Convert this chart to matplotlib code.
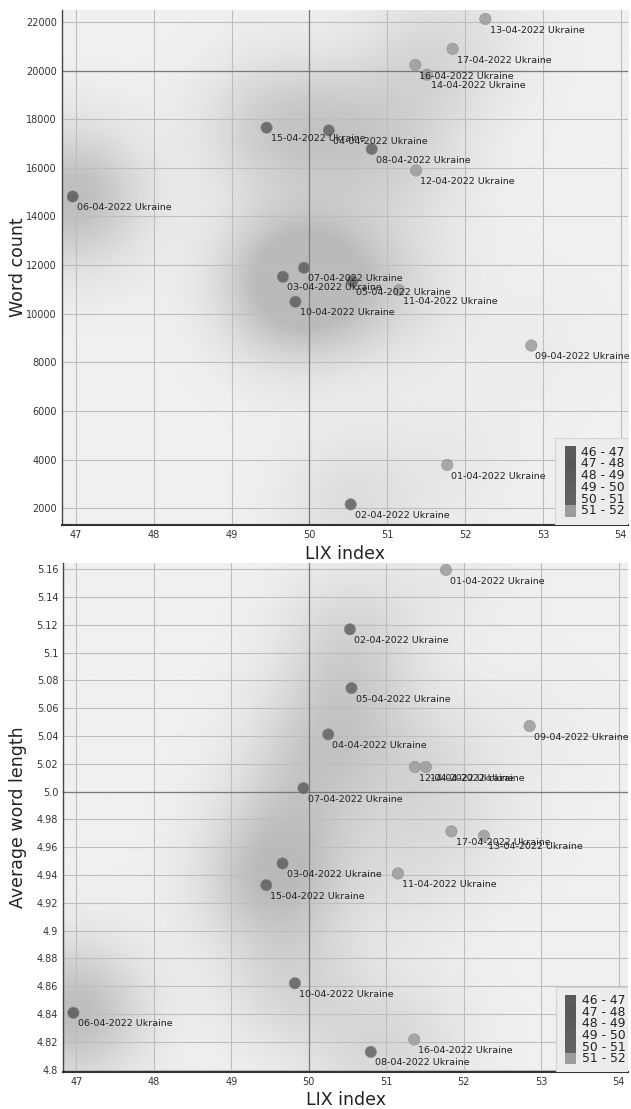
import numpy as np
import matplotlib
matplotlib.use('Agg')
import matplotlib.pyplot as plt
from matplotlib.patches import Rectangle

# data
dates = ['01-04-2022', '02-04-2022', '03-04-2022', '04-04-2022', '05-04-2022',
         '06-04-2022', '07-04-2022', '08-04-2022', '09-04-2022', '10-04-2022',
         '11-04-2022', '12-04-2022', '13-04-2022', '14-04-2022', '15-04-2022',
         '16-04-2022', '17-04-2022']
country = 'Ukraine'
lix = [51.77, 50.53, 49.66, 50.25, 50.55, 46.96, 49.93, 50.80, 52.85, 49.82,
       51.15, 51.37, 52.26, 51.51, 49.45, 51.36, 51.84]
word_count = [3780, 2160, 11520, 17540, 11330, 14820, 11890, 16770, 8690, 10490,
              10970, 15890, 22120, 19830, 17650, 20230, 20890]
avg_word_len = [5.1595, 5.1168, 4.9483, 5.0412, 5.0745, 4.8408, 5.0025, 4.8127, 5.0472, 4.8621,
                4.9411, 5.0177, 4.9682, 5.0177, 4.9327, 4.8216, 4.9714]

legend_labels = ['46 - 47', '47 - 48', '48 - 49', '49 - 50', '50 - 51', '51 - 52']
legend_colors = ['#5a5a5a', '#575757', '#5b5b5b', '#5f5f5f', '#626262', '#9c9c9c']

x_ticks = [47, 48, 49, 50, 51, 52, 53, 54]
wc_ticks = [2000, 4000, 6000, 8000, 10000, 12000, 14000, 16000, 18000, 20000, 22000]
awl_ticks = [4.8, 4.82, 4.84, 4.86, 4.88, 4.9, 4.92, 4.94, 4.96, 4.98, 5.0,
             5.02, 5.04, 5.06, 5.08, 5.1, 5.12, 5.14, 5.16]
awl_tick_labels = ['4.8', '4.82', '4.84', '4.86', '4.88', '4.9', '4.92', '4.94', '4.96', '4.98', '5.0',
                   '5.02', '5.04', '5.06', '5.08', '5.1', '5.12', '5.14', '5.16']


def bin_color(v):
    i = int(np.floor(v)) - 46
    i = min(max(i, 0), len(legend_colors) - 1)
    return legend_colors[i]


def shade(ax, xs, ys, vals, xlim, ylim):
    # soft grey halos behind the points, darker for low LIX
    g = np.linspace(0, 1, 260)
    X, Y = np.meshgrid(g, g)
    field = np.full(X.shape, 0.94)
    px = (np.array(xs) - xlim[0]) / (xlim[1] - xlim[0])
    py = (np.array(ys) - ylim[0]) / (ylim[1] - ylim[0])
    for x0, y0, v in zip(px, py, vals):
        amp = np.clip((52.5 - v) * 0.036, 0.015, 0.2)
        d2 = (X - x0) ** 2 + ((Y - y0) * 0.91) ** 2
        field -= amp * np.exp(-d2 / (2 * 0.085 ** 2))
    field = np.clip(field, 0.73, 0.96)
    ax.imshow(field, cmap='gray', vmin=0, vmax=1, origin='lower', aspect='auto',
              extent=[xlim[0], xlim[1], ylim[0], ylim[1]], interpolation='bilinear', zorder=0)


def legend_box(ax):
    ax.add_patch(Rectangle((0.872, 0.0), 0.128, 0.168, transform=ax.transAxes,
                           facecolor='#ececec', edgecolor='#d4d4d4', lw=0.8, zorder=5))
    top = 0.152
    bottom = 0.0155
    h = (top - bottom) / len(legend_labels)
    for i, (lab, col) in enumerate(zip(legend_labels, legend_colors)):
        y = top - (i + 1) * h
        ax.add_patch(Rectangle((0.889, y), 0.019, h, transform=ax.transAxes,
                               facecolor=col, edgecolor='none', zorder=6))
        ax.text(0.918, y + h / 2, lab, transform=ax.transAxes, fontsize=8.9,
                color='#222222', ha='left', va='center', zorder=7)


def panel(ax, ys, xlim, ylim, yticks, ytick_labels, ylabel, center_y, label_x, label_y):
    shade(ax, lix, ys, lix, xlim, ylim)
    colors = [bin_color(v) for v in lix]
    ax.scatter(lix, ys, s=68, c=colors, alpha=0.85, edgecolors='#8a8a8a', linewidths=0.4, zorder=3)
    for d, x, y in zip(dates, lix, ys):
        ax.annotate(d + ' ' + country, (x, y), xytext=(3, -8), textcoords='offset points',
                    fontsize=6.8, color='#222222', ha='left', va='center', zorder=4)
    ax.set_xlim(xlim)
    ax.set_ylim(ylim)
    ax.set_xticks(x_ticks)
    ax.set_yticks(yticks)
    ax.set_yticklabels(ytick_labels)
    ax.set_axisbelow(True)
    ax.grid(True, color='#bdbdbd', lw=0.8, zorder=1)
    ax.axvline(50, color='#7a7a7a', lw=0.9, zorder=1.5)
    ax.axhline(center_y, color='#7a7a7a', lw=0.9, zorder=1.5)
    ax.tick_params(length=0, labelsize=7, labelcolor='#333333', pad=3.6)
    for s in ['top', 'right']:
        ax.spines[s].set_visible(False)
    ax.spines['left'].set_color('#444444')
    ax.spines['left'].set_linewidth(1.0)
    ax.spines['bottom'].set_color('#333333')
    ax.spines['bottom'].set_linewidth(1.5)
    ax.set_xlabel('LIX index', fontsize=12.5, color='#222222')
    ax.set_ylabel(ylabel, fontsize=12.5, color='#222222')
    ax.xaxis.set_label_coords(0.5, label_x)
    ax.xaxis.label.set_va('center')
    ax.yaxis.set_label_coords(label_y, 0.5)
    ax.yaxis.label.set_va('center')
    legend_box(ax)


def main():
    fig = plt.figure(figsize=(6.31, 11.09), dpi=100)
    fig.patch.set_facecolor('white')
    ax1 = fig.add_axes([0.098, 0.5269, 0.897, 0.4641])
    ax2 = fig.add_axes([0.1003, 0.0331, 0.895, 0.4592])
    panel(ax1, word_count, (46.82, 54.09), (1325, 22490), wc_ticks, [str(t) for t in wc_ticks],
          'Word count', 20000, -0.057, -0.078)
    panel(ax2, avg_word_len, (46.83, 54.12), (4.798, 5.1645), awl_ticks, awl_tick_labels,
          'Average word length', 5.0, -0.054, -0.080)
    fig.savefig('out.png', dpi=100)


if __name__ == '__main__':
    main()
